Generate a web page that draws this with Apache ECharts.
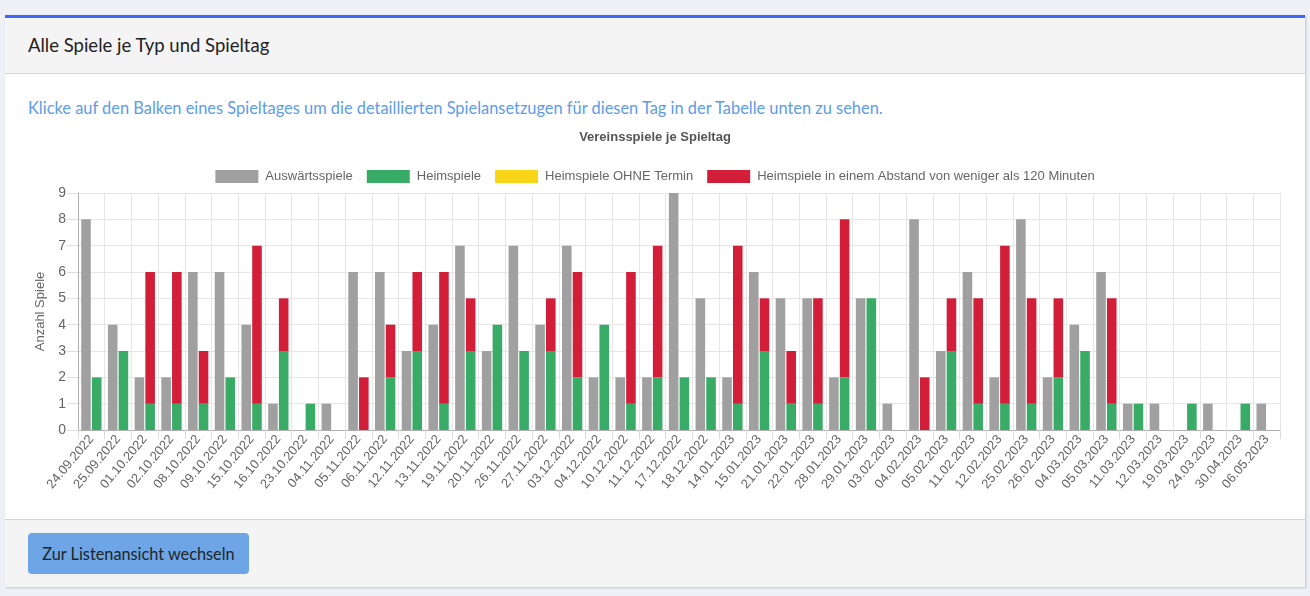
<!DOCTYPE html>
<html>
<head>
<meta charset="utf-8">
<script src="https://cdn.jsdelivr.net/npm/echarts@6/dist/echarts.min.js"></script>
<style>
  html, body { margin: 0; padding: 0; width: 1310px; height: 596px; overflow: hidden; background: #eff0f5; }
  .card { position: absolute; left: 5px; top: 15px; width: 1300px; height: 572px; background: #fff;
          border-top: 3px solid #3d66fb; box-shadow: 1px 1px 2px rgba(0,0,0,0.18); box-sizing: border-box; }
  .hdr { position: absolute; left: 0; top: 0; right: 0; height: 55px; background: #f4f4f5; border-bottom: 1px solid #d4d4d4; }
  .hdr span { position: absolute; left: 23px; top: 16px; font-family: Lato, "Open Sans", sans-serif; font-size: 18.5px; color: #222; }
  .info { position: absolute; left: 23px; top: 80px; font-family: Lato, "Open Sans", sans-serif; font-size: 16.4px; color: #5c9ce9; white-space: nowrap; }
  .ftr { position: absolute; left: 0; bottom: 0; right: 0; height: 67px; background: #f4f4f5; border-top: 1px solid #d4d4d4; }
  .btn { position: absolute; left: 23px; top: 13px; width: 221px; height: 41px; border-radius: 4px; background: #6da5e7;
         font-family: Lato, "Open Sans", sans-serif; font-size: 16.3px; color: #212529; line-height: 41px; text-align: center; }
  #chart { position: absolute; left: 0; top: 0; width: 1310px; height: 596px; }
</style>
</head>
<body>
<div class="card">
  <div class="hdr"><span>Alle Spiele je Typ und Spieltag</span></div>
  <div class="info">Klicke auf den Balken eines Spieltages um die detaillierten Spielansetzugen für diesen Tag in der Tabelle unten zu sehen.</div>
  <div class="ftr"><div class="btn">Zur Listenansicht wechseln</div></div>
</div>
<div id="chart"></div>
<script>
const categories = ["24.09.2022","25.09.2022","01.10.2022","02.10.2022","08.10.2022","09.10.2022","15.10.2022","16.10.2022","23.10.2022","04.11.2022","05.11.2022","06.11.2022","12.11.2022","13.11.2022","19.11.2022","20.11.2022","26.11.2022","27.11.2022","03.12.2022","04.12.2022","10.12.2022","11.12.2022","17.12.2022","18.12.2022","14.01.2023","15.01.2023","21.01.2023","22.01.2023","28.01.2023","29.01.2023","03.02.2023","04.02.2023","05.02.2023","11.02.2023","12.02.2023","25.02.2023","26.02.2023","04.03.2023","05.03.2023","11.03.2023","12.03.2023","19.03.2023","24.03.2023","30.04.2023","06.05.2023"];
const auswaerts = [8,4,2,2,6,6,4,1,0,1,6,6,3,4,7,3,7,4,7,2,2,2,9,5,2,6,5,5,2,5,1,8,3,6,2,8,2,4,6,1,1,0,1,0,1];
const heim      = [2,3,1,1,1,2,1,3,1,0,0,2,3,1,3,4,3,3,2,4,1,2,2,2,1,3,1,1,2,5,0,0,3,1,1,1,2,3,1,1,0,1,0,1,0];
const ohneTermin= [0,0,0,0,0,0,0,0,0,0,0,0,0,0,0,0,0,0,0,0,0,0,0,0,0,0,0,0,0,0,0,0,0,0,0,0,0,0,0,0,0,0,0,0,0];
const abstand   = [0,0,5,5,2,0,6,2,0,0,2,2,3,5,2,0,0,2,4,0,5,5,0,0,6,2,2,4,6,0,0,2,2,4,6,4,3,0,4,0,0,0,0,0,0];
const yTicks = [0,1,2,3,4,5,6,7,8,9];

const font = '"Liberation Sans", Arial, Helvetica, sans-serif';
const chart = echarts.init(document.getElementById('chart'));
const mk = (name, data, stack, color) => ({
  name, type: 'bar', stack, data, barGap: '12%', barCategoryGap: '24%',
  itemStyle: { color }, emphasis: { disabled: true }
});
chart.setOption({
  animation: false,
  title: {
    text: 'Vereinsspiele je Spieltag', left: 'center', top: 126,
    textStyle: { fontFamily: font, fontSize: 13, fontWeight: 'bold', color: '#555' }
  },
  legend: {
    top: 165, left: 'center', itemWidth: 43, itemHeight: 13, itemGap: 14,
    icon: 'rect',
    textStyle: { fontFamily: font, fontSize: 13, color: '#666', padding: [0, 0, 0, 2] },
    data: ['Auswärtsspiele', 'Heimspiele', 'Heimspiele OHNE Termin', 'Heimspiele in einem Abstand von weniger als 120 Minuten']
  },
  grid: { left: 78, right: 30, top: 193, bottom: 166, containLabel: false },
  xAxis: {
    type: 'category', data: categories,
    axisLine: { lineStyle: { color: '#b0b0b0' } },
    axisTick: { show: true, length: 9, lineStyle: { color: '#dcdcdc' } },
    splitLine: { show: true, lineStyle: { color: '#e6e6e6' } },
    axisLabel: { rotate: 50, fontFamily: font, fontSize: 13, color: '#666', margin: 7, interval: 0 }
  },
  yAxis: {
    type: 'value', min: yTicks[0], max: yTicks[yTicks.length - 1], interval: 1,
    name: 'Anzahl Spiele', nameLocation: 'middle', nameGap: 30,
    nameTextStyle: { fontFamily: font, fontSize: 13, color: '#666' },
    axisLine: { show: true, lineStyle: { color: '#b0b0b0' } },
    axisTick: { show: true, length: 11, lineStyle: { color: '#e0e0e0' } },
    splitLine: { show: true, lineStyle: { color: '#e6e6e6' } },
    axisLabel: { fontFamily: font, fontSize: 14, color: '#666', margin: 12 }
  },
  series: [
    mk('Auswärtsspiele', auswaerts, 'away', '#a0a0a0'),
    mk('Heimspiele', heim, 'home', '#38ac66'),
    mk('Heimspiele OHNE Termin', ohneTermin, 'home', '#f8d516'),
    mk('Heimspiele in einem Abstand von weniger als 120 Minuten', abstand, 'home', '#d31e39')
  ]
});
</script>
</body>
</html>
